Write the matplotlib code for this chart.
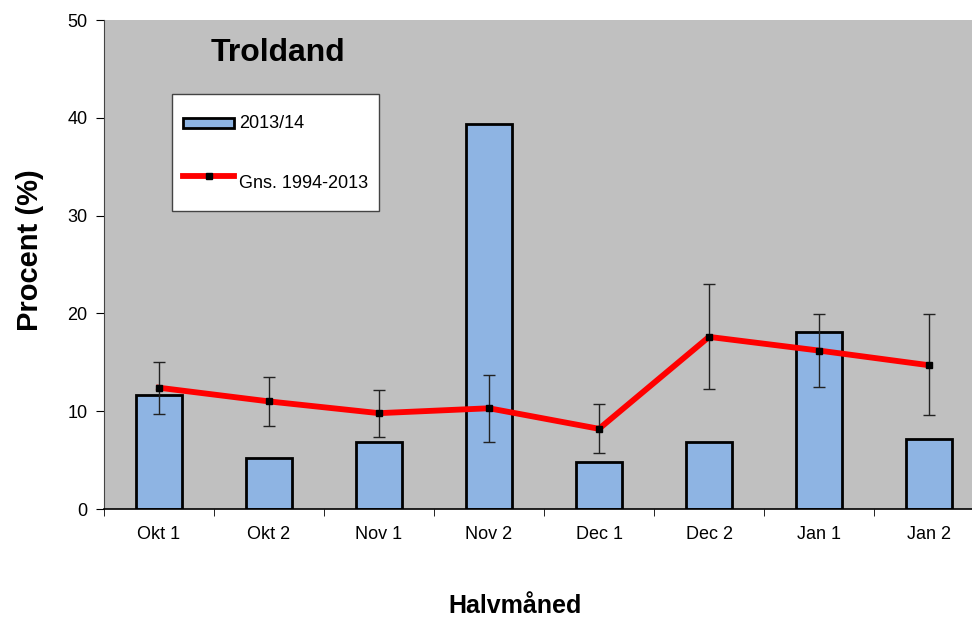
import numpy as np
import matplotlib.pyplot as plt
from matplotlib.patches import Patch, Rectangle
from matplotlib.lines import Line2D
from matplotlib.legend_handler import HandlerPatch

plt.rcParams['font.family'] = ['Liberation Sans', 'DejaVu Sans']

# data
halvmaaned = ['Okt 1', 'Okt 2', 'Nov 1', 'Nov 2', 'Dec 1', 'Dec 2', 'Jan 1', 'Jan 2']
saeson_2013 = [11.7, 5.2, 6.9, 39.4, 4.8, 6.9, 18.1, 7.2]
gns_1994_2013 = [12.4, 11.0, 9.8, 10.3, 8.2, 17.6, 16.2, 14.7]
err_upper = [15.0, 13.5, 12.2, 13.7, 10.7, 23.0, 19.9, 19.9]
err_lower = [9.7, 8.5, 7.4, 6.9, 5.7, 12.3, 12.5, 9.6]

x = np.arange(len(halvmaaned))
gns = np.array(gns_1994_2013)
yerr = [gns - np.array(err_lower), np.array(err_upper) - gns]

fig = plt.figure(figsize=(9.72, 6.18), dpi=100)
# plot area runs past the right edge, like in the original
ax = fig.add_axes([104/972, 1 - 509/618, 880/972, 489/618])
ax.set_facecolor('#C0C0C0')

ax.bar(x, saeson_2013, width=0.41, color='#8EB4E3', edgecolor='black', linewidth=2, zorder=2)
ax.errorbar(x, gns, yerr=yerr, fmt='none', ecolor='#222222', elinewidth=1,
            capsize=4.5, capthick=1, zorder=4)
ax.plot(x, gns, color='red', lw=4.2, zorder=3)
ax.plot(x, gns, ls='none', marker='s', ms=5, color='black', zorder=5)

ax.set_xlim(-0.5, 7.5)
ax.set_ylim(0, 50)
ax.set_yticks([0, 10, 20, 30, 40, 50])
ax.set_xticks(x)
ax.set_xticklabels(halvmaaned)
ax.set_xticks(np.arange(-0.5, 8, 1), minor=True)
ax.tick_params(axis='x', which='major', length=0, pad=12, labelsize=13)
ax.tick_params(axis='x', which='minor', length=5, direction='out')
ax.tick_params(axis='y', length=6, direction='out', labelsize=13, pad=6)
for s in ['top', 'right']:
    ax.spines[s].set_visible(False)
ax.spines['left'].set_color('#444444')
ax.spines['bottom'].set_linewidth(1.2)

fig.text(278/972, 1 - 53/618, 'Troldand', fontsize=23, fontweight='bold', ha='center', va='center')
fig.text(30/972, 1 - 250/618, 'Procent (%)', fontsize=21, fontweight='bold', rotation=90,
         ha='center', va='center')
fig.text(515/972, 1 - 606/618, 'Halvmåned', fontsize=18, fontweight='bold', ha='center', va='center')


def flat_box(legend, orig_handle, xdescent, ydescent, width, height, fontsize):
    h = 0.55 * fontsize
    return Rectangle((-xdescent, -ydescent + (height - h) / 2), width, h)


handles = [Patch(facecolor='#8EB4E3', edgecolor='black', linewidth=2),
           Line2D([], [], color='red', lw=4.2, marker='s', ms=5, mfc='black', mec='black')]
leg = ax.legend(handles, ['2013/14', 'Gns. 1994-2013'], loc='upper left',
                bbox_to_anchor=(172/972, 1 - 94/618), bbox_transform=fig.transFigure,
                fontsize=13, frameon=True, fancybox=False, framealpha=1,
                edgecolor='#444444', borderpad=0.6, labelspacing=1.3,
                handlelength=2.85, handleheight=2.7, handletextpad=0.28, borderaxespad=0,
                handler_map={Patch: HandlerPatch(patch_func=flat_box)})
leg.get_frame().set_linewidth(1)

fig.savefig('out.png', dpi=100)
